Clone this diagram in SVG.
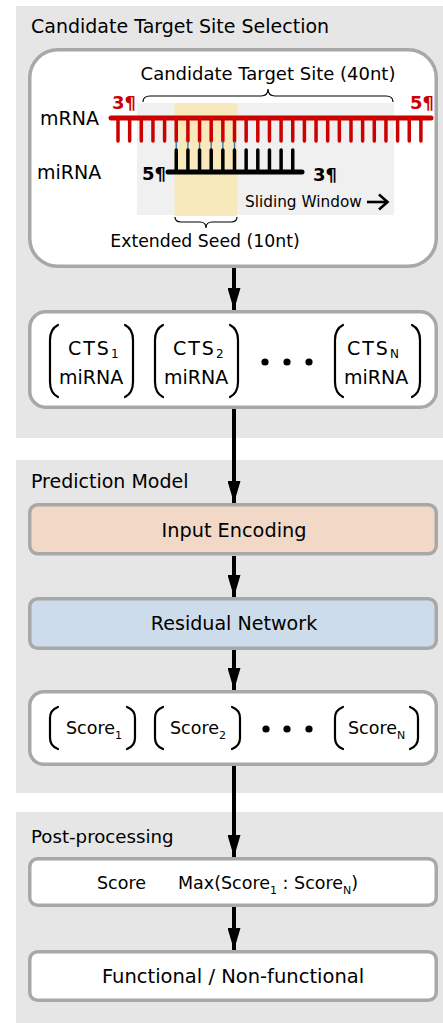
<svg xmlns="http://www.w3.org/2000/svg" width="443" height="1023" viewBox="0 0 443 1023">
<defs>
<style>
.t{font-family:"DejaVu Sans","Liberation Sans",sans-serif;fill:#000}
.panel{fill:#e6e6e6}
.box{fill:#fff;stroke:#a8a8a8;stroke-width:3.5}
.par{fill:none;stroke:#000;stroke-width:2.2;stroke-linecap:round}
.conn{stroke:#000;stroke-width:4}
.mr{stroke:#cc0000;stroke-width:3.5;stroke-linecap:round}
.mi{stroke:#000;stroke-width:3.5;stroke-linecap:round}
.bp{stroke:#1f78c8;stroke-width:1.3}
.br{fill:none;stroke:#000;stroke-width:1.2}
.lbl{font-size:19px}
.sub{font-size:12px}
</style>
<marker id="ah" viewBox="0 0 22 13" refX="22" refY="6.5" markerWidth="22" markerHeight="13" markerUnits="userSpaceOnUse" orient="auto">
<path d="M0,0 L22,6.5 L0,13 Z" fill="#000"/>
</marker>
</defs>

<!-- panels -->
<g id="panel-selection">
<rect class="panel" x="16" y="6" width="427" height="432"/>
<text class="t" x="31" y="33" font-size="19">Candidate Target Site Selection</text>
</g>
<g id="panel-prediction">
<rect class="panel" x="16" y="460" width="427" height="333"/>
<text class="t" x="31" y="488" font-size="19">Prediction Model</text>
</g>
<g id="panel-post">
<rect class="panel" x="16" y="812" width="427" height="211"/>
<text class="t" x="31" y="843" font-size="18.2">Post-processing</text>
</g>

<!-- CTS site node -->
<g id="node-cts-site">
<rect class="box" x="29.75" y="49.75" width="406.5" height="216.5" rx="28"/>
<rect x="137" y="103" width="257" height="112" fill="#f0f0f0"/>
<rect x="174.5" y="103" width="62.5" height="113" fill="#f7e9bb"/>
<text class="t" x="268" y="80" font-size="18" text-anchor="middle">Candidate Target Site (40nt)</text>
<path class="br" d="M143,102 Q143,96 150,96 L261,96 Q268,96 268,89 Q268,96 275,96 L386,96 Q393,96 393,102"/>
<text class="t" x="40" y="125" font-size="19">mRNA</text>
<text class="t" x="37" y="179" font-size="19">miRNA</text>
<text class="t" x="112" y="109" font-size="18" font-weight="bold" style="fill:#cc0000">3¶</text>
<text class="t" x="410" y="109" font-size="18" font-weight="bold" style="fill:#cc0000">5¶</text>
<text class="t" x="142" y="180" font-size="18" font-weight="bold">5¶</text>
<text class="t" x="313" y="181" font-size="18" font-weight="bold">3¶</text>
<g id="mrna">
<line x1="111" y1="118" x2="431" y2="118" stroke="#cc0000" stroke-width="5" stroke-linecap="round"/>
<path class="mr" d="M118,118V141M129.65,118V141M141.3,118V141M152.95,118V141M164.6,118V141M176.25,118V141M187.9,118V141M199.55,118V141M211.2,118V141M222.85,118V141M234.5,118V141M246.15,118V141M257.8,118V141M269.45,118V141M281.1,118V141M292.75,118V141M304.4,118V141M316.05,118V141M327.7,118V141M339.35,118V141M351,118V141M362.65,118V141M374.3,118V141M385.95,118V141M397.6,118V141M409.25,118V141M420.9,118V141"/>
</g>
<path class="bp" d="M176.25,141V151M187.9,141V151M199.55,141V151M211.2,141V151M222.85,141V151M234.5,141V151"/>
<g id="mirna">
<line x1="168" y1="172" x2="302" y2="172" stroke="#000" stroke-width="5" stroke-linecap="round"/>
<path class="mi" d="M176.25,172V150M187.9,172V150M199.55,172V150M211.2,172V150M222.85,172V150M234.5,172V150M246.15,172V150M257.8,172V150M269.45,172V150M281.1,172V150M292.75,172V150"/>
</g>
<text class="t" x="245" y="207" font-size="15.3">Sliding Window</text>
<line x1="367" y1="202" x2="386" y2="202" stroke="#000" stroke-width="2.6"/>
<path d="M379,194.5 L387.5,202 L379,209.5" fill="none" stroke="#000" stroke-width="2.6"/>
<path class="br" d="M175,217 Q175,222 181,222 L200,222 Q206,222 206,228 Q206,222 212,222 L231,222 Q237,222 237,217"/>
<text class="t" x="205" y="247" font-size="17.3" text-anchor="middle">Extended Seed (10nt)</text>
</g>

<!-- CTS list node -->
<g id="node-cts-list">
<rect class="box" x="29.75" y="311.75" width="406.5" height="95.5" rx="16"/>
<path class="par" d="M58,325 Q50,329 50,340 V382 Q50,393 58,397"/>
<path class="par" d="M125,325 Q133,329 133,340 V382 Q133,393 125,397"/>
<path class="par" d="M163,325 Q155,329 155,340 V382 Q155,393 163,397"/>
<path class="par" d="M230,325 Q238,329 238,340 V382 Q238,393 230,397"/>
<path class="par" d="M343,325 Q335,329 335,340 V382 Q335,393 343,397"/>
<path class="par" d="M412,325 Q420,329 420,340 V382 Q420,393 412,397"/>
<text class="t lbl" x="68" y="355"><tspan letter-spacing="2">CTS</tspan><tspan class="sub" dy="3">1</tspan></text>
<text class="t lbl" x="59" y="384">miRNA</text>
<text class="t lbl" x="173" y="355"><tspan letter-spacing="2">CTS</tspan><tspan class="sub" dy="3">2</tspan></text>
<text class="t lbl" x="164" y="384">miRNA</text>
<text class="t lbl" x="347" y="355"><tspan letter-spacing="2">CTS</tspan><tspan class="sub" dy="3">N</tspan></text>
<text class="t lbl" x="344" y="384">miRNA</text>
<circle cx="265" cy="362" r="3.6"/>
<circle cx="287" cy="362" r="3.6"/>
<circle cx="309" cy="362" r="3.6"/>
</g>

<!-- Prediction nodes -->
<g id="node-input-encoding">
<rect class="box" x="29.75" y="504.75" width="406.5" height="49" rx="8" style="fill:#f2d8c7"/>
<text class="t" x="234" y="537" font-size="19.3" text-anchor="middle">Input Encoding</text>
</g>
<g id="node-residual">
<rect class="box" x="29.75" y="598.75" width="406.5" height="49.5" rx="8" style="fill:#cddcea"/>
<text class="t" x="234" y="630" font-size="19.1" text-anchor="middle">Residual Network</text>
</g>
<g id="node-scores">
<rect class="box" x="29.75" y="691.75" width="406.5" height="72.5" rx="14"/>
<path class="par" d="M58,707 Q50,710 50,718 V738 Q50,746 58,749"/>
<path class="par" d="M127,707 Q135,710 135,718 V738 Q135,746 127,749"/>
<path class="par" d="M163,707 Q155,710 155,718 V738 Q155,746 163,749"/>
<path class="par" d="M232,707 Q240,710 240,718 V738 Q240,746 232,749"/>
<path class="par" d="M343,707 Q335,710 335,718 V738 Q335,746 343,749"/>
<path class="par" d="M410,707 Q418,710 418,718 V738 Q418,746 410,749"/>
<text class="t" x="66" y="734" font-size="17.5">Score<tspan dy="5" font-size="11">1</tspan></text>
<text class="t" x="170" y="734" font-size="17.5">Score<tspan dy="5" font-size="11">2</tspan></text>
<text class="t" x="348" y="734" font-size="17.5">Score<tspan dy="5" font-size="11">N</tspan></text>
<circle cx="266" cy="729" r="3.6"/>
<circle cx="287" cy="729" r="3.6"/>
<circle cx="309" cy="729" r="3.6"/>
</g>

<!-- Post-processing nodes -->
<g id="node-max">
<rect class="box" x="29.75" y="858.75" width="406.5" height="46.5" rx="8"/>
<text class="t" x="97" y="889" font-size="17.5">Score</text>
<text class="t" x="178" y="889" font-size="17.5">Max(Score<tspan font-size="11" dy="5">1</tspan><tspan dy="-5"> : Score</tspan><tspan font-size="11" dy="5">N</tspan><tspan dy="-5">)</tspan></text>
</g>
<g id="node-output">
<rect class="box" x="29.75" y="951.75" width="406.5" height="48.5" rx="8"/>
<text class="t" x="233" y="983" font-size="19.5" text-anchor="middle">Functional / Non-functional</text>
</g>

<!-- connectors -->
<g id="connectors">
<line class="conn" x1="234" y1="268" x2="234" y2="310" marker-end="url(#ah)"/>
<line class="conn" x1="234" y1="409" x2="234" y2="503" marker-end="url(#ah)"/>
<line class="conn" x1="234" y1="556" x2="234" y2="597" marker-end="url(#ah)"/>
<line class="conn" x1="234" y1="650" x2="234" y2="690" marker-end="url(#ah)"/>
<line class="conn" x1="234" y1="766" x2="234" y2="857" marker-end="url(#ah)"/>
<line class="conn" x1="234" y1="907" x2="234" y2="950" marker-end="url(#ah)"/>
</g>
</svg>
